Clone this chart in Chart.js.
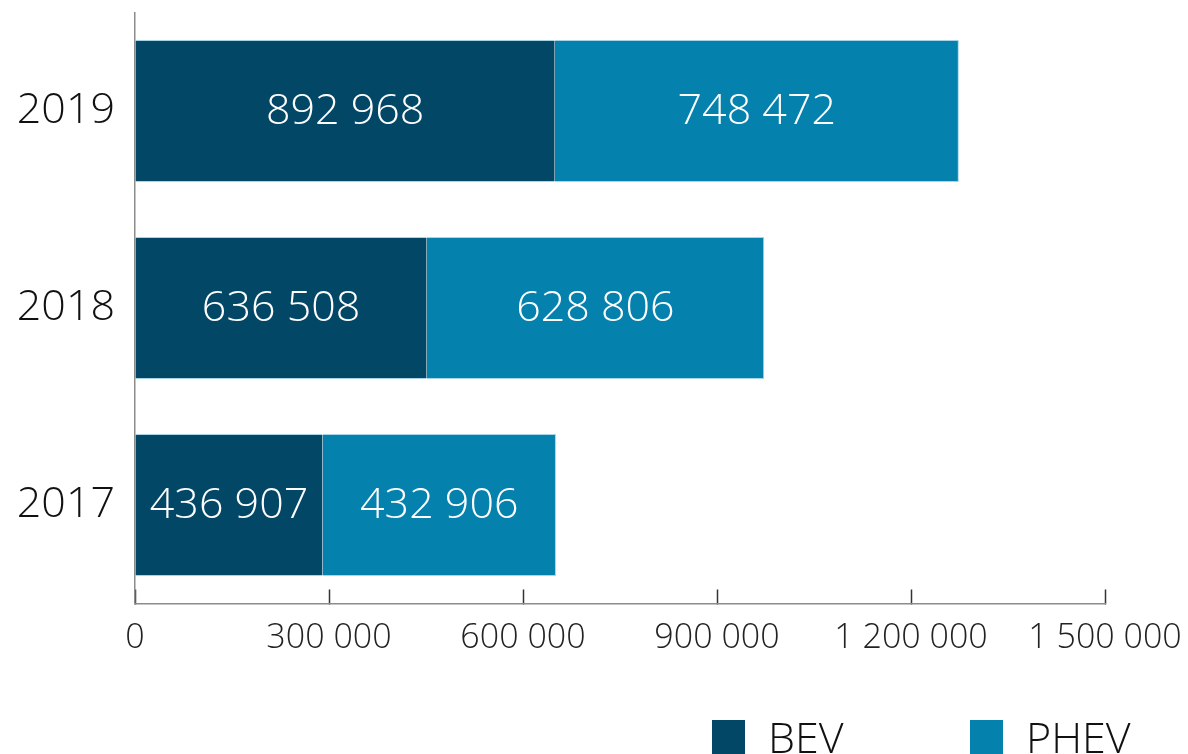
<!DOCTYPE html>
<html>
<head>
<meta charset="utf-8">
<script src="https://cdn.jsdelivr.net/npm/chart.js@4/dist/chart.umd.min.js"></script>
<style>
  html, body { margin: 0; padding: 0; background: #fff; }
  #wrap { width: 1188px; height: 754px; position: relative; }
</style>
</head>
<body>
<div id="wrap"><canvas id="evChart"></canvas></div>
<script>
  // data
  const years = ['2019', '2018', '2017'];
  const bevValues = [649000, 451000, 290000];
  const phevValues = [625000, 522000, 361000];
  // printed labels inside the bars
  const bevLabels = ['892 968', '636 508', '436 907'];
  const phevLabels = ['748 472', '628 806', '432 906'];
  const seriesNames = ['BEV', 'PHEV'];
  const xTicks = [0, 300000, 600000, 900000, 1200000, 1500000];

  const BEV_COLOR = '#034767';
  const PHEV_COLOR = '#0581ad';
  const EDGE = 'rgba(130,195,222,0.7)';
  const FONT = '"Open Sans", "DejaVu Sans", sans-serif';

  const spaced = v => String(v).replace(/\B(?=(\d{3})+(?!\d))/g, ' ');

  // white value labels centred in each segment
  const barLabels = {
    id: 'barLabels',
    afterDatasetsDraw(chart) {
      const ctx = chart.ctx;
      const texts = [bevLabels, phevLabels];
      ctx.save();
      ctx.fillStyle = '#fff';
      ctx.font = '300 43px ' + FONT;
      ctx.textAlign = 'center';
      ctx.textBaseline = 'middle';
      chart.data.datasets.forEach((ds, i) => {
        chart.getDatasetMeta(i).data.forEach((bar, j) => {
          const c = bar.getCenterPoint();
          ctx.fillText(texts[i][j], c.x, c.y + 1);
        });
      });
      ctx.restore();
    }
  };

  // legend in bottom right corner
  const cornerLegend = {
    id: 'cornerLegend',
    afterDraw(chart) {
      const ctx = chart.ctx;
      const items = [
        { x: 712, text: seriesNames[0], color: BEV_COLOR },
        { x: 970, text: seriesNames[1], color: PHEV_COLOR }
      ];
      ctx.save();
      ctx.font = '300 43px ' + FONT;
      ctx.textBaseline = 'alphabetic';
      ctx.textAlign = 'left';
      items.forEach(it => {
        ctx.fillStyle = it.color;
        ctx.fillRect(it.x, 720, 33, 34);
        ctx.fillStyle = '#111';
        ctx.fillText(it.text, it.x + 56, 753);
      });
      ctx.restore();
    }
  };

  new Chart(document.getElementById('evChart'), {
    type: 'bar',
    data: {
      labels: years,
      datasets: [
        { label: seriesNames[0], data: bevValues, backgroundColor: BEV_COLOR, borderColor: EDGE,
          borderWidth: { top: 1, bottom: 1, left: 0, right: 0 }, borderSkipped: false },
        { label: seriesNames[1], data: phevValues, backgroundColor: PHEV_COLOR, borderColor: EDGE,
          borderWidth: { top: 1, bottom: 1, left: 0, right: 1 }, borderSkipped: false }
      ]
    },
    options: {
      indexAxis: 'y',
      responsive: true,
      maintainAspectRatio: false,
      animation: false,
      layout: { padding: { top: 12.5, right: 83, bottom: 0, left: 0 } },
      plugins: { legend: { display: false }, tooltip: { enabled: false } },
      datasets: { bar: { categoryPercentage: 1, barPercentage: 0.72 } },
      scales: {
        x: {
          stacked: true,
          min: 0,
          max: 1500000,
          afterBuildTicks: s => { s.ticks = xTicks.map(v => ({ value: v })); },
          afterFit: s => { s.height = 150.5; s.paddingLeft = 0; s.paddingRight = 0; },
          grid: { drawOnChartArea: false, drawTicks: true, tickLength: -14, tickColor: '#333', tickWidth: 1.5 },
          border: { display: true, color: '#8c8c8c', width: 1.5 },
          ticks: {
            padding: 28,
            color: '#222',
            maxRotation: 0,
            autoSkip: false,
            font: { family: FONT, size: 34, weight: '300' },
            callback: v => spaced(v)
          }
        },
        y: {
          stacked: true,
          afterFit: s => { s.width = 135; s.paddingTop = 0; s.paddingBottom = 0; },
          grid: { display: false, drawTicks: false },
          border: { display: true, color: '#8c8c8c', width: 1.5 },
          ticks: { padding: 20, color: '#111', font: { family: FONT, size: 43, weight: '300' } }
        }
      }
    },
    plugins: [barLabels, cornerLegend]
  });
</script>
</body>
</html>
